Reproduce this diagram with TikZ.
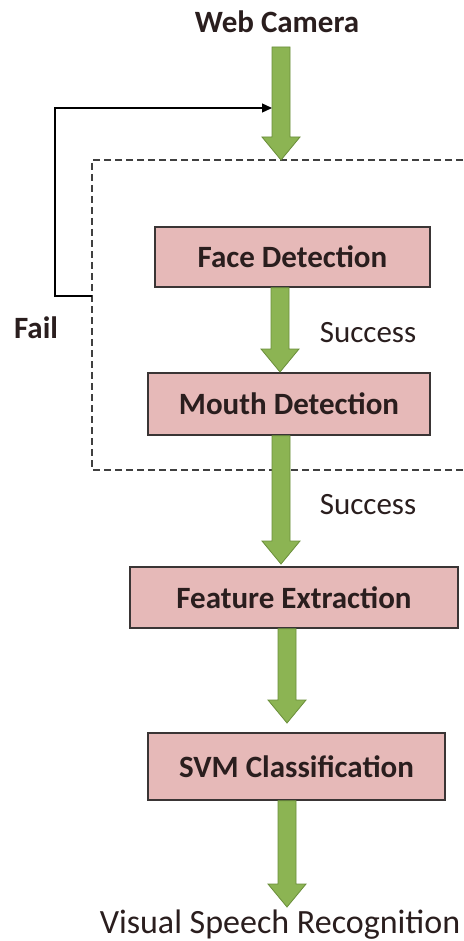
\documentclass[tikz,border=0pt]{standalone}
\usepackage{fontspec}
\setmainfont{Carlito}
\usetikzlibrary{calc,arrows.meta}
\definecolor{boxfill}{HTML}{E6B9B8}
\definecolor{boxedge}{HTML}{3A3535}
\definecolor{txt}{HTML}{2A1E1E}
\definecolor{arrgreen}{HTML}{8CB453}
\definecolor{arredge}{HTML}{6A8E3A}
\newcommand\greenarrow[2]{%
  \filldraw[garrow] let \p1=(#1), \p2=(#2) in
    (\x2-9pt,\y1) -- (\x2-9pt,\y2+23pt) -- (\x2-19pt,\y2+23pt) -- (\x2,\y2)
    -- (\x2+19pt,\y2+23pt) -- (\x2+9pt,\y2+23pt) -- (\x2+9pt,\y1) -- cycle;}
\begin{document}
\begin{tikzpicture}[x=1pt,y=-1pt,
  stage/.style={draw=boxedge, line width=1.3pt, fill=boxfill, text=txt,
    font=\fontsize{31}{36}\selectfont\bfseries, inner sep=0pt},
  garrow/.style={fill=arrgreen, draw=arredge, line width=0.8pt},
  lbl/.style={text=txt, font=\fontsize{31}{36}\selectfont, inner sep=0pt},
  blbl/.style={lbl, font=\fontsize{31}{36}\selectfont\bfseries},
  dashbox/.style={draw=black!75, line width=1.2pt, dash pattern=on 7pt off 4pt},
  fbline/.style={draw=black, line width=1.3pt}]
\useasboundingbox (0,0) rectangle (463,941);
\fill[white] (0,0) rectangle (463,941);

% dashed region
\coordinate (dtr) at (463,160);
\coordinate (dtl) at (92,160);
\coordinate (dbl) at (92,470);
\coordinate (dbr) at (463,470);
\draw[dashbox] (dtr) -- (dtl) -- (dbl) -- (dbr);

% stages
\node[stage, minimum width=275pt, minimum height=60pt] (face) at (292.5,257) {Face Detection};
\node[stage, minimum width=282pt, minimum height=62pt] (mouth) at (289,404) {Mouth Detection};
\node[stage, minimum width=328pt, minimum height=61pt] (feat) at (294,597.5) {Feature Extraction};
\node[stage, minimum width=297pt, minimum height=67pt] (svm) at (296.5,766.5) {SVM Classification};

% labels
\node[blbl] (cam) at (277,22) {Web Camera};
\node[lbl] (s1) at (368,333) {Success};
\node[lbl] (s2) at (368,505) {Success};
\node[blbl] (fail) at (36,328) {Fail};
\node[lbl, font=\fontsize{34}{38}\selectfont] (vsr) at (280,925) {Visual Speech Recognition};

% arrow tips and tops
\coordinate (c0) at (281,47);
\coordinate (t1) at (281,160);
\coordinate (t2) at (280,372);
\coordinate (t3) at (281,564);
\coordinate (t4) at (287,723);
\coordinate (t5) at (287,907);

\greenarrow{c0}{t1}
\greenarrow{face.south -| t2}{t2}
\greenarrow{mouth.south -| t3}{t3}
\greenarrow{feat.south -| t4}{t4}
\greenarrow{svm.south -| t5}{t5}

% feedback
\coordinate (fb0) at (92,296);
\coordinate (fb1) at (55,296);
\coordinate (fb2) at (55,108);
\coordinate (fb3) at (272,108);
\draw[fbline, -{Triangle[length=10pt,width=9pt]}] (fb0) -- (fb1) -- (fb2) -- (fb3);
\end{tikzpicture}
\end{document}
